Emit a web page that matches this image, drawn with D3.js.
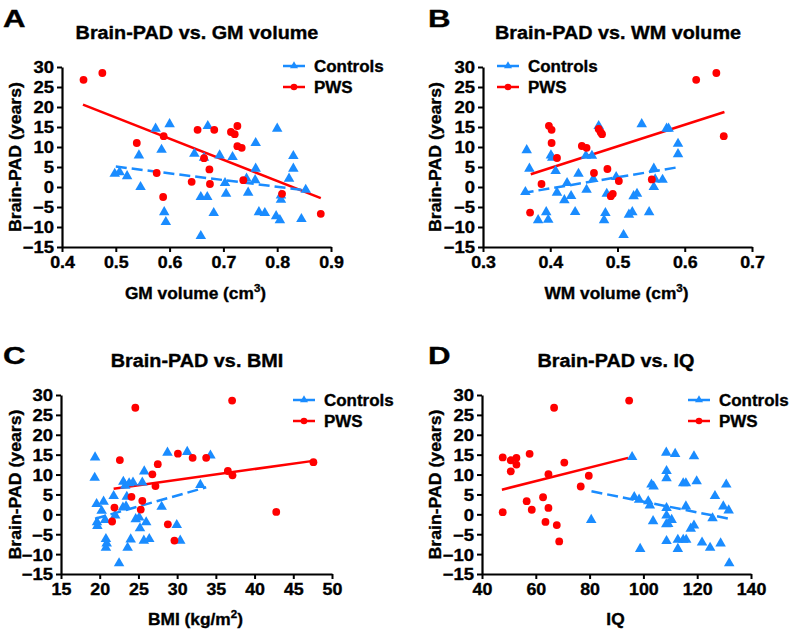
<!DOCTYPE html>
<html>
<head>
<meta charset="utf-8">
<script src="https://cdn.jsdelivr.net/npm/d3@7"></script>
<style>
  html, body { margin: 0; padding: 0; background: #fff; }
  svg { display: block; font-family: "Liberation Sans", Arial, Helvetica, sans-serif; font-weight: bold; }
  svg text { stroke: #000; stroke-width: 0.35px; paint-order: stroke; }
</style>
</head>
<body>
<svg id="chart" width="790" height="634"></svg>
<script>
// ---------- DATA ----------
const yTicks = [30, 25, 20, 15, 10, 5, 0, -5, -10, -15];

// Panel A: GM volume
const aTicksX = [0.4, 0.5, 0.6, 0.7, 0.8, 0.9];
const aCtrlX = [0.498,0.507,0.521,0.543,0.546,0.574,0.585,0.590,0.593,0.600,0.646,0.658,0.658,0.664,0.671,0.670,0.682,0.693,0.703,0.705,0.717,0.743,0.746,0.760,0.760,0.759,0.766,0.777,0.798,0.800,0.805,0.807,0.807,0.822,0.830,0.830,0.845,0.853];
const aCtrlY = [3.3,3.7,2.7,7.9,0.0,14.6,9.3,-6.3,-8.75,15.7,8.3,-12.25,-2.5,7.3,15.25,-2.5,-6.5,7.9,1.0,-1.7,7.5,2.1,-1.4,11.0,4.6,1.7,-6.3,-6.5,-7.3,14.6,-8.3,-3.2,-2.1,2.1,7.75,4.6,-8.0,-0.7];
const aPwsX = [0.440,0.475,0.539,0.589,0.576,0.588,0.641,0.652,0.664,0.674,0.675,0.683,0.714,0.721,0.726,0.726,0.734,0.737,0.809,0.881];
const aPwsY = [26.8,28.5,11.0,12.7,3.5,-2.5,1.3,14.3,7.2,4.4,0.75,14.3,13.75,13.2,15.25,10.2,9.8,1.7,-1.7,-6.7];
const aCtrlFitX = [0.500, 0.851], aCtrlFitY = [5.1, -0.8];
const aPwsFitX = [0.439, 0.881], aPwsFitY = [20.6, -2.8];

// Panel B: WM volume
const bTicksX = [0.3, 0.4, 0.5, 0.6, 0.7];
const bCtrlX = [0.363,0.365,0.369,0.382,0.394,0.397,0.401,0.403,0.408,0.410,0.425,0.421,0.431,0.437,0.442,0.454,0.453,0.462,0.464,0.472,0.480,0.482,0.484,0.498,0.509,0.517,0.522,0.524,0.529,0.536,0.547,0.554,0.554,0.556,0.567,0.573,0.576,0.590,0.590];
const bCtrlY = [-1.25,9.2,4.6,-8.3,-6.3,-8.2,7.9,7.3,4.0,-1.4,1.0,-3.3,-2.25,-6.25,3.3,-0.7,7.8,7.8,2.0,15.25,-8.3,-6.5,-1.7,2.5,-12.0,-6.9,-6.3,-2.3,-1.7,15.7,-6.3,0.0,4.6,1.9,1.8,14.6,14.6,10.8,8.2];
const bPwsX = [0.617,0.647,0.658,0.370,0.387,0.398,0.402,0.402,0.410,0.447,0.454,0.465,0.472,0.475,0.477,0.485,0.490,0.493,0.502,0.551];
const bPwsY = [26.8,28.5,12.7,-6.4,0.75,15.3,14.3,11.0,7.25,10.25,9.8,3.5,14.5,13.7,13.2,4.5,-2.3,-1.7,1.5,1.9];
const bCtrlFitX = [0.359, 0.592], bCtrlFitY = [-1.5, 5.0];
const bPwsFitX = [0.371, 0.659], bPwsFitY = [3.2, 18.75];

// Panel C: BMI
const cTicksX = [15, 20, 25, 30, 35, 40, 45, 50];
const cCtrlX = [19.4,19.35,19.6,19.65,19.7,20.25,20.5,20.7,20.8,20.9,20.8,21.8,22.0,22.5,23.0,23.05,23.3,23.5,23.6,23.4,23.8,24.0,24.3,24.65,25.1,25.2,25.5,25.7,25.75,26.0,26.4,28.0,28.75,29.95,30.4,31.3,33.0,34.3];
const cCtrlY = [14.3,9.2,2.6,-2.0,-2.9,0.9,3.2,-1.4,-6.2,-7.3,-8.4,4.6,-0.3,-12.3,1.7,8.2,7.2,4.4,-8.4,2.0,7.8,-6.3,8.0,-1.2,-0.8,-3.5,8.0,-6.6,10.8,-2.0,-6.2,1.9,15.5,-2.7,-6.6,15.7,7.4,14.8];
const cPwsX = [24.6,37.1,22.6,26.8,27.5,27.2,30.1,32.0,33.75,36.55,37.15,47.6,42.8,21.9,21.6,24.1,25.5,25.3,28.8,29.65];
const cPwsY = [26.8,28.6,13.65,10.05,12.6,7.1,15.25,14.2,14.2,10.9,9.8,13.1,0.6,1.7,-1.8,4.4,3.4,1.2,-2.5,-6.6];
const cCtrlFitX = [19.4, 33.75], cCtrlFitY = [-1.1, 6.8];
const cPwsFitX = [21.8, 47.8], cPwsFitY = [6.45, 13.5];

// Panel D: IQ
const dTicksX = [40, 60, 80, 100, 120, 140];
const dCtrlX = [80.6,95.8,96.6,98.4,98.8,101.8,102.4,103.0,103.8,103.6,108.5,108.6,108.6,108.6,108.6,108.5,109.2,108.6,110.5,111.8,112.8,112.8,114.8,115.8,114.8,115.8,115.9,117.6,118.8,118.8,119.8,121.8,124.8,125.7,126.6,128.7,129.7,130.8,131.7,131.9];
const dCtrlY = [-1.4,14.4,4.35,3.7,-8.7,3.3,2.25,7.5,7.0,-1.7,15.5,10.9,9.1,1.6,-0.3,-2.5,-2.4,-6.7,-1.4,15.2,-8.7,-6.4,7.8,7.8,-6.4,2.0,-6.4,-3.6,14.6,-2.8,8.3,-7.1,-8.4,-1.0,4.6,-7.3,2.0,7.5,1.0,-12.3];
const dPwsX = [47.7,50.7,50.7,52.8,52.8,57.7,56.6,58.5,47.7,62.7,63.6,64.7,64.7,66.8,67.8,68.7,70.6,76.7,79.7,94.7];
const dPwsY = [14.3,13.6,10.8,14.2,12.5,15.2,3.3,1.15,0.55,4.3,-1.9,10.1,1.6,26.8,-2.7,-6.8,13.0,7.0,9.7,28.6];
const dCtrlFitX = [80.7, 131.9], dCtrlFitY = [5.8, -1.1];
const dPwsFitX = [47.4, 94.3], dPwsFitY = [6.2, 14.2];

const legendLabels = ["Controls", "PWS"];

// ---------- DRAWING ----------
const BLUE = "#1a8cff", RED = "#ff0000";
const svg = d3.select("#chart");

// widen glyphs horizontally (the reference's type is wider than Arial)
function stretch(sel, k) {
  sel.each(function () {
    const L = this.getComputedTextLength();
    d3.select(this).attr("textLength", L * k).attr("lengthAdjust", "spacingAndGlyphs");
  });
}

const panels = [
  { letter: "A", title: "Brain-PAD vs. GM volume", xlab: "GM volume (cm", sup: "3", ticks: aTicksX, fmt: d3.format(".1f"),
    cx: aCtrlX, cy: aCtrlY, px: aPwsX, py: aPwsY, cfx: aCtrlFitX, cfy: aCtrlFitY, pfx: aPwsFitX, pfy: aPwsFitY,
    x0: 62, x1: 331, y0: 67, y1: 247, lx: 3, ly: 27, tx: 197, ty: 39, ylx: 15, xly: 299, legX: 283, legY: 66 },
  { letter: "B", title: "Brain-PAD vs. WM volume", xlab: "WM volume (cm", sup: "3", ticks: bTicksX, fmt: d3.format(".1f"),
    cx: bCtrlX, cy: bCtrlY, px: bPwsX, py: bPwsY, cfx: bCtrlFitX, cfy: bCtrlFitY, pfx: bPwsFitX, pfy: bPwsFitY,
    x0: 483, x1: 752, y0: 67, y1: 247, lx: 428, ly: 27, tx: 618, ty: 39, ylx: 435, xly: 299, legX: 497, legY: 66 },
  { letter: "C", title: "Brain-PAD vs. BMI", xlab: "BMI (kg/m", sup: "2", ticks: cTicksX, fmt: d3.format("d"),
    cx: cCtrlX, cy: cCtrlY, px: cPwsX, py: cPwsY, cfx: cCtrlFitX, cfy: cCtrlFitY, pfx: cPwsFitX, pfy: cPwsFitY,
    x0: 61, x1: 332, y0: 395, y1: 574, lx: 3, ly: 364, tx: 197, ty: 367, ylx: 15, xly: 625, legX: 293, legY: 400 },
  { letter: "D", title: "Brain-PAD vs. IQ", xlab: "IQ", sup: null, ticks: dTicksX, fmt: d3.format("d"),
    cx: dCtrlX, cy: dCtrlY, px: dPwsX, py: dPwsY, cfx: dCtrlFitX, cfy: dCtrlFitY, pfx: dPwsFitX, pfy: dPwsFitY,
    x0: 482, x1: 751, y0: 395, y1: 574, lx: 428, ly: 364, tx: 616, ty: 367, ylx: 435, xly: 625, legX: 688, legY: 400 }
];

const triSym = d3.symbol(d3.symbolTriangle, 48);
const triLeg = d3.symbol(d3.symbolTriangle, 28);

panels.forEach(p => {
  const x = d3.scaleLinear().domain([p.ticks[0], p.ticks[p.ticks.length - 1]]).range([p.x0, p.x1]);
  const y = d3.scaleLinear().domain([-15, 30]).range([p.y1, p.y0]);
  const g = svg.append("g");

  // letter
  const lt = g.append("text").attr("x", p.lx).attr("y", p.ly).attr("font-size", 24).attr("fill", "#000").text(p.letter);
  stretch(lt, 1.3);
  // title
  const tt = g.append("text").attr("x", p.tx).attr("y", p.ty).attr("text-anchor", "middle").attr("font-size", 18).text(p.title);
  stretch(tt, 1.1);

  // axes
  const yAxis = d3.axisLeft(y).tickValues(yTicks).tickSize(5).tickSizeOuter(0).tickPadding(3);
  const xAxis = d3.axisBottom(x).tickValues(p.ticks).tickFormat(p.fmt).tickSize(5).tickSizeOuter(0).tickPadding(4);
  const ya = g.append("g").attr("transform", `translate(${p.x0},0)`).call(yAxis);
  const xa = g.append("g").attr("transform", `translate(0,${p.y1})`).call(xAxis);
  [ya, xa].forEach(a => {
    a.attr("font-family", null);
    a.select(".domain").attr("stroke", "#000").attr("stroke-width", 2.2);
    a.selectAll(".tick line").attr("stroke", "#000").attr("stroke-width", 2);
    a.selectAll(".tick text").attr("fill", "#000").attr("font-size", 16.5).attr("font-weight", "bold");
  });
  ya.selectAll(".tick text").attr("dy", "0.36em");
  xa.selectAll(".tick text").attr("dy", "0.75em");
  stretch(ya.selectAll(".tick text"), 1.12);
  stretch(xa.selectAll(".tick text"), 1.08);

  // y label
  const yl = g.append("text").attr("transform", `translate(${p.ylx},${(p.y0 + p.y1) / 2}) rotate(-90)`)
    .attr("text-anchor", "middle").attr("dy", "0.35em").attr("font-size", 16.5).text("Brain-PAD (years)");
  stretch(yl, 1.07);
  // x label
  const xl = g.append("text").attr("x", (p.x0 + p.x1) / 2 - 1).attr("y", p.xly).attr("text-anchor", "middle").attr("font-size", 16.5);
  xl.append("tspan").text(p.xlab);
  if (p.sup) {
    xl.append("tspan").attr("font-size", 11).attr("dy", -7).text(p.sup);
    xl.append("tspan").attr("dy", 7).text(")");
  }
  stretch(xl, 1.05);

  // fit lines
  const line = d3.line().x(d => x(d[0])).y(d => y(d[1]));
  g.append("path").attr("d", line(d3.zip(p.pfx, p.pfy))).attr("stroke", RED).attr("stroke-width", 2.5).attr("fill", "none");
  g.append("path").attr("d", line(d3.zip(p.cfx, p.cfy))).attr("stroke", BLUE).attr("stroke-width", 2.5)
    .attr("stroke-dasharray", "11,5").attr("fill", "none");

  // points
  g.append("g").selectAll("path").data(d3.zip(p.cx, p.cy)).join("path")
    .attr("d", triSym).attr("transform", d => `translate(${x(d[0])},${y(d[1])})`).attr("fill", BLUE);
  g.append("g").selectAll("circle").data(d3.zip(p.px, p.py)).join("circle")
    .attr("cx", d => x(d[0])).attr("cy", d => y(d[1])).attr("r", 3.9).attr("fill", RED);

  // legend
  const leg = g.append("g").attr("transform", `translate(${p.legX},${p.legY})`);
  legendLabels.forEach((lab, i) => {
    const yy = i * 21;
    const col = i === 0 ? BLUE : RED;
    leg.append("line").attr("x1", 0).attr("x2", 22).attr("y1", yy).attr("y2", yy).attr("stroke", col).attr("stroke-width", 2.5);
    if (i === 0) leg.append("path").attr("d", triLeg).attr("transform", `translate(11,${yy})`).attr("fill", col);
    else leg.append("circle").attr("cx", 11).attr("cy", yy).attr("r", 3.3).attr("fill", col);
    const lt2 = leg.append("text").attr("x", 31).attr("y", yy).attr("dy", "0.36em").attr("font-size", 16).text(lab);
    stretch(lt2, 1.06);
  });
});
</script>
</body>
</html>
